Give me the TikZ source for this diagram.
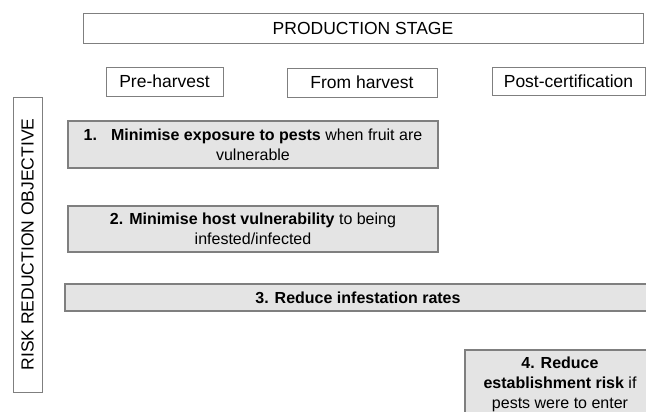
\documentclass[tikz,border=0pt]{standalone}
\usepackage{fontspec}
\setmainfont{Liberation Sans}
\usepackage{tikz}

\definecolor{boxgray}{HTML}{E4E4E4}
\definecolor{linegray}{HTML}{7F7F7F}

\tikzset{
  stagebox/.style={draw=linegray, line width=0.9pt, fill=white, inner sep=0pt,
    font=\fontsize{17.5}{20}\selectfont},
  objbox/.style={draw=linegray, line width=1.2pt, fill=boxgray, inner sep=0pt,
    align=center, font=\fontsize{16}{20}\selectfont},
}

\begin{document}
\begin{tikzpicture}[x=1pt,y=-1pt]
      \useasboundingbox (0,0) rectangle (646,412);
      \clip (0,0) rectangle (646,412);
      \node[stagebox, minimum width=560, minimum height=30] (stage) at (363,28) {PRODUCTION STAGE};
      \node[stagebox, minimum width=117, minimum height=29] (pre) at (164.5,81.5) {Pre-harvest};
      \node[stagebox, minimum width=150, minimum height=29] (from) at (362,82.5) {From harvest};
      \node[stagebox, minimum width=153, minimum height=28] (post) at (568.5,81) {Post-certification};
      \node[stagebox, rotate=90, minimum width=295, minimum height=29] (risk) at (27.5,244.5) {RISK REDUCTION OBJECTIVE};
      \node[objbox, minimum width=370, minimum height=47] (obj1) at (253,144.5)
        {\textbf{1.\hspace{14pt}Minimise exposure to pests} when fruit are\\vulnerable};
      \node[objbox, minimum width=370, minimum height=46] (obj2) at (253,229)
        {\textbf{2. Minimise host vulnerability} to being\\infested/infected};
      \node[objbox, minimum width=586, minimum height=27] (obj3) at (358,297.5)
        {\textbf{3. Reduce infestation rates}};
      \node[objbox, minimum width=190, minimum height=68] (obj4) at (560,384)
        {\textbf{4. Reduce}\\\textbf{establishment risk} if\\pests were to enter};
\end{tikzpicture}
\end{document}
